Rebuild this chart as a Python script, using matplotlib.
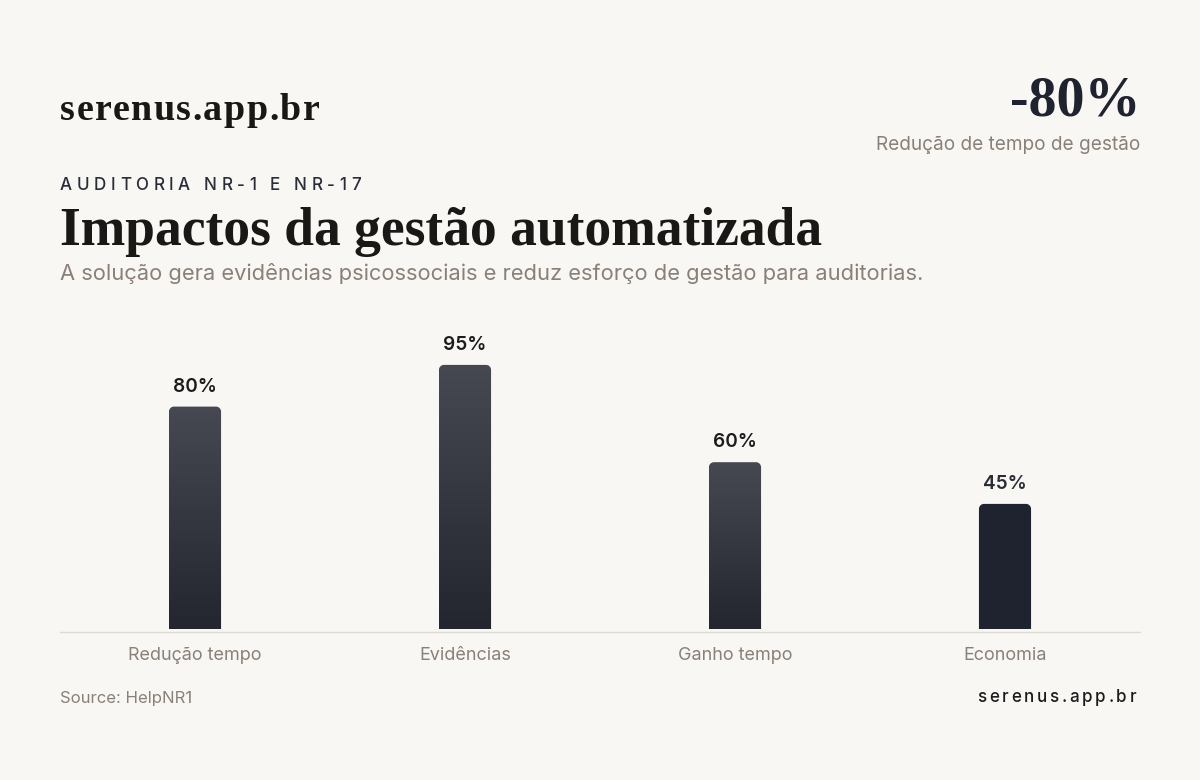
import numpy as np
import matplotlib.pyplot as plt
from matplotlib.path import Path
from matplotlib.patches import PathPatch
from matplotlib.colors import LinearSegmentedColormap

categories = ["Redução tempo", "Evidências", "Ganho tempo", "Economia"]
values = [80, 95, 60, 45]
value_labels = ["80%", "95%", "60%", "45%"]
gradient = [True, True, True, False]

BG = "#f8f7f4"
MUTED = "#8a8078"
DARK = "#1f2330"
INK = "#1a1816"
SANS = ["Inter", "DejaVu Sans"]
SERIF = ["Liberation Serif", "DejaVu Serif"]

W, H = 1200, 780
fig = plt.figure(figsize=(12, 7.8), dpi=100, facecolor=BG)

def fx(px):
    return px / W

def fy(py):
    return 1 - py / H

def pt(px):
    return px * 0.72

renderer = fig.canvas.get_renderer()

def tracked(x, y, s, tracking, ha="left", **kw):
    # matplotlib has no letter-spacing, so place letters one by one
    def width(t):
        if not t:
            return 0.0
        tmp = fig.text(0, 0, t, **kw)
        w = tmp.get_window_extent(renderer).width
        tmp.remove()
        return w
    total = width(s) + tracking * (len(s) - 1)
    x0 = x - total if ha == "right" else x
    for i, ch in enumerate(s):
        if ch == " ":
            continue
        off = width(s[:i]) + tracking * i
        fig.text(fx(x0 + off), fy(y), ch, va="center", ha="left", **kw)

# header
tracked(60, 111, "serenus.app.br", 1.5, family=SERIF, fontweight="bold",
        fontsize=pt(38), color=INK)
fig.text(fx(1140), fy(101), "-80%", ha="right", va="center", family=SERIF,
         fontweight="bold", fontsize=pt(56), color=DARK)
fig.text(fx(1140), fy(145), "Redução de tempo de gestão", ha="right", va="center",
         family=SANS, fontsize=pt(19), color=MUTED)

tracked(60, 186, "AUDITORIA NR-1 E NR-17", 4.6, family=SANS, fontweight="medium",
        fontsize=pt(17), color="#2a2d38")
fig.text(fx(60), fy(232), "Impactos da gestão automatizada", ha="left", va="center",
         family=SERIF, fontweight="bold", fontsize=pt(53.5), color=INK)
fig.text(fx(60), fy(274), "A solução gera evidências psicossociais e reduz esforço de gestão para auditorias.",
         ha="left", va="center", family=SANS, fontsize=pt(21.9), color=MUTED)

# chart
ax = fig.add_axes([fx(60), fy(629), fx(1080), (629 - 351) / H])
ax.set_facecolor(BG)
ax.set_xlim(-0.5, len(categories) - 0.5)
ax.set_ylim(0, 100)
for s in ["top", "right", "left"]:
    ax.spines[s].set_visible(False)
ax.spines["bottom"].set_color("#dedad4")
ax.spines["bottom"].set_linewidth(1)
ax.spines["bottom"].set_position(("outward", 2))
ax.set_yticks([])
ax.set_xticks(range(len(categories)))
ax.set_xticklabels(categories, family=SANS, fontsize=pt(18), color=MUTED)
ax.tick_params(axis="x", length=0, pad=11)

cmap = LinearSegmentedColormap.from_list("bar", ["#23262f", "#464852"])
bw = 0.193
px_x = 1080 / len(categories)
px_y = 278 / 100
r = 5
rx, ry = r / px_x, r / px_y
k = 0.55

for i, (v, lab, g) in enumerate(zip(values, value_labels, gradient)):
    x0, x1 = i - bw / 2, i + bw / 2
    verts = [(x0, 0), (x0, v - ry),
             (x0, v - ry + k * ry), (x0 + rx - k * rx, v), (x0 + rx, v),
             (x1 - rx, v),
             (x1 - rx + k * rx, v), (x1, v - ry + k * ry), (x1, v - ry),
             (x1, 0), (x0, 0)]
    codes = [Path.MOVETO, Path.LINETO,
             Path.CURVE4, Path.CURVE4, Path.CURVE4,
             Path.LINETO,
             Path.CURVE4, Path.CURVE4, Path.CURVE4,
             Path.LINETO, Path.CLOSEPOLY]
    patch = PathPatch(Path(verts, codes), facecolor=DARK if not g else "none",
                      edgecolor="none")
    ax.add_patch(patch)
    if g:
        grad = np.linspace(0, 1, 256).reshape(-1, 1)
        im = ax.imshow(grad, cmap=cmap, origin="lower", aspect="auto",
                       extent=[x0, x1, 0, v], interpolation="bicubic")
        im.set_clip_path(patch)
    ax.annotate(lab, (i, v), xytext=(0, 14.4), textcoords="offset points",
                ha="center", va="center", family=SANS, fontweight="semibold",
                fontsize=pt(19), color="#1c1c1c" if g else "#2a2d38")

ax.set_xlim(-0.5, len(categories) - 0.5)
ax.set_ylim(0, 100)

# footer
fig.text(fx(60), fy(698), "Source: HelpNR1", ha="left", va="center",
         family=SANS, fontsize=pt(16.7), color=MUTED)
tracked(1136, 698, "serenus.app.br", 2.7, ha="right", family=SANS,
        fontweight="medium", fontsize=pt(17), color="#1c1c1c")

fig.savefig("out.png", dpi=100, facecolor=BG)
